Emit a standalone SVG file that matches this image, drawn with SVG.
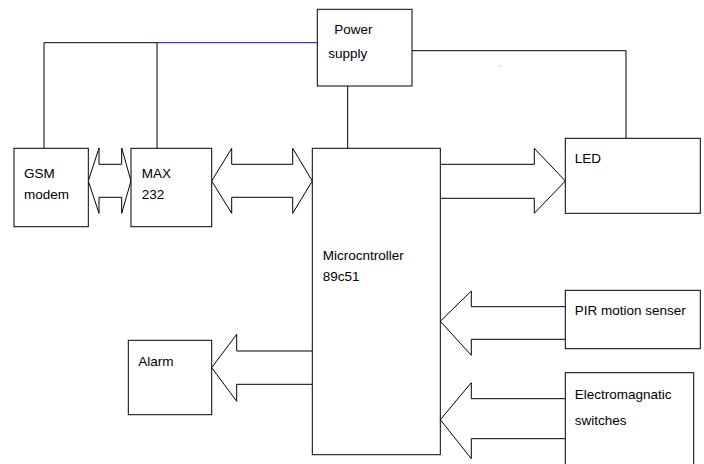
<svg xmlns="http://www.w3.org/2000/svg" width="704" height="464" viewBox="0 0 704 464">
<style>
.box{fill:#fff;stroke:#000;stroke-width:1}
.w{fill:none;stroke:#000;stroke-width:1}
.arr{fill:#fff;stroke:#000;stroke-width:1}
text{font-family:"Liberation Sans",Arial,sans-serif;font-size:13.5px;fill:#000}
</style>
<rect width="704" height="464" fill="#fff"/>
<g id="connectors">
<polyline class="w" points="44,148 44,42.7 157,42.7"/>
<line x1="157" y1="42.7" x2="317" y2="42.7" stroke="#3838d8" stroke-width="1.3"/>
<line class="w" x1="157" y1="42.7" x2="157" y2="148"/>
<line class="w" x1="347.7" y1="86" x2="347.7" y2="148"/>
<polyline class="w" points="412,50.7 626,50.7 626,138.3"/>
<polygon class="arr" points="88.3,181 99,148 99,164.3 121.7,164.3 121.7,148 131,181 121.7,213.3 121.7,197.3 99,197.3 99,213.3"/>
<polygon class="arr" points="211.7,181 231.7,148.3 231.7,164.3 292.7,164.3 292.7,148.3 312.3,181 292.7,213.3 292.7,197.3 231.7,197.3 231.7,213.3"/>
<path class="arr" d="M440.3,164.3 H534.3 V148.3 L565.3,181 L534.3,213.3 V198.3 H440.3"/>
<path class="arr" d="M312.3,351 H236.7 V334.3 L211.7,367.7 L236.7,401.3 V384.3 H312.3"/>
<path class="arr" d="M565.3,306.7 H471.3 V291 L440.3,321.3 L471.3,355.3 V339.3 H565.3"/>
<path class="arr" d="M565.3,398.7 H471.3 V382.7 L440.3,419.7 L471.3,458.7 V438.7 H565.3"/>
</g>
<rect x="499" y="65.3" width="1" height="1" fill="#888"/>
<g id="power">
<rect class="box" x="317.3" y="9.3" width="94.7" height="76.7"/>
<text x="334.3" y="33.5">Power</text>
<text x="328.3" y="58">supply</text>
</g>
<g id="gsm">
<rect class="box" x="14" y="148.3" width="74.3" height="78.4"/>
<text x="24" y="178.3">GSM</text>
<text x="24" y="199.3">modem</text>
</g>
<g id="max">
<rect class="box" x="131" y="148.3" width="80.7" height="78.4"/>
<text x="141.7" y="178.3">MAX</text>
<text x="141.7" y="199.3">232</text>
</g>
<g id="micro">
<rect class="w" x="312.3" y="148.3" width="128" height="306.4"/>
<text x="322.7" y="260.3">Microcntroller</text>
<text x="322.7" y="281.3">89c51</text>
</g>
<g id="led">
<rect class="box" x="565.3" y="138.3" width="135" height="75"/>
<text x="574.7" y="163.3">LED</text>
</g>
<g id="alarm">
<rect class="box" x="128.3" y="340.3" width="83.4" height="74.4"/>
<text x="138.3" y="366.3">Alarm</text>
</g>
<g id="pir">
<rect class="box" x="565.3" y="290.3" width="135" height="58.4"/>
<text x="574.7" y="315.3">PIR motion senser</text>
</g>
<g id="em">
<rect class="box" x="565.3" y="372.7" width="128.4" height="100"/>
<text x="574.7" y="398.7">Electromagnatic</text>
<text x="574.7" y="425.3">switches</text>
</g>
</svg>
